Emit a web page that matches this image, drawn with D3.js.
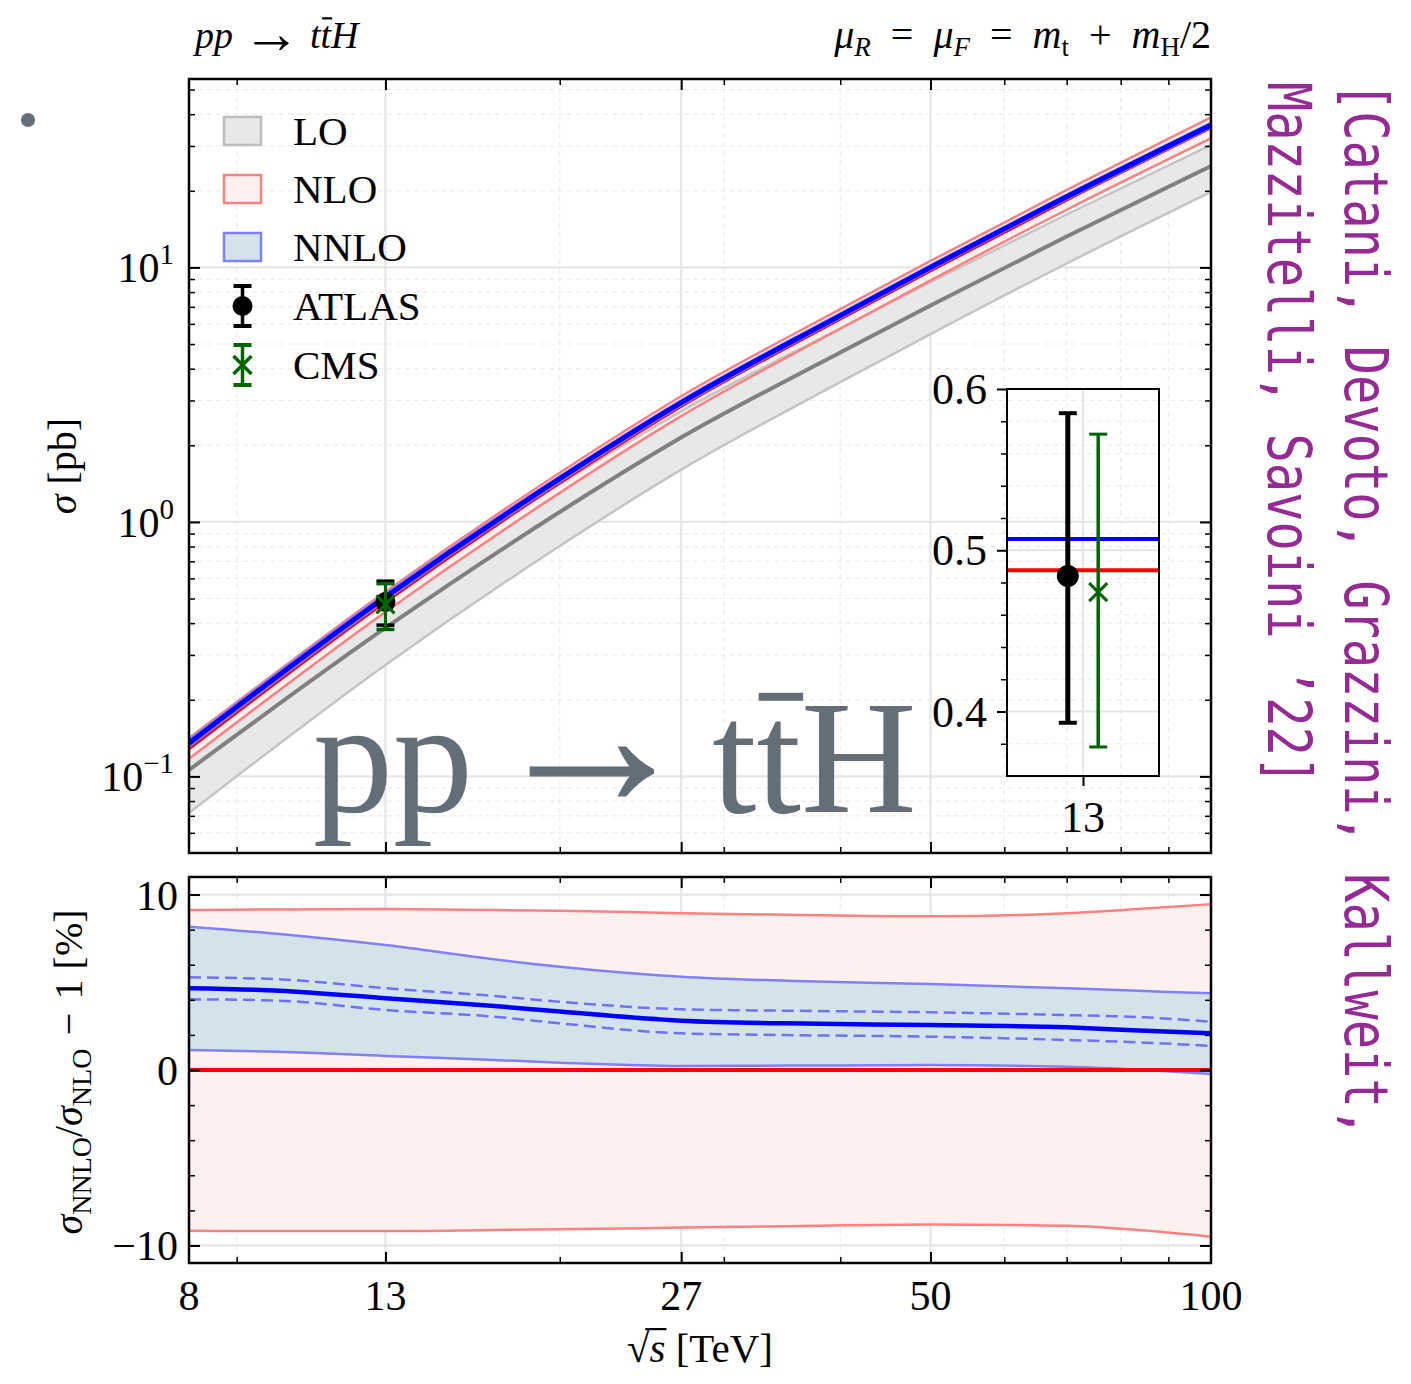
<!DOCTYPE html>
<html><head><meta charset="utf-8">
<script src="https://cdn.jsdelivr.net/npm/d3@7"></script>
<style>
body{margin:0;background:#fff;}
svg{display:block;}
text{font-family:"Liberation Serif","DejaVu Serif",serif;fill:#000;}
</style></head><body>
<svg id="chart" width="1411" height="1384"></svg>
<script>
// ---------------- data ----------------
const energies    = [8, 13, 20, 27, 40, 50, 70, 100];          // sqrt(s) [TeV]
const loCentral   = [0.106, 0.383, 1.094, 2.145, 4.63, 7.09, 13.23, 25.0];
const loUpper     = [0.142, 0.51, 1.41, 2.72, 5.76, 8.76, 16.14, 30.3];
const loLower     = [0.0718, 0.274, 0.804, 1.604, 3.54, 5.47, 10.36, 19.8];
const nloCentral  = [0.129, 0.4876, 1.43, 2.86, 6.3, 9.75, 18.5, 35.5];
const nloUpper    = [0.1408, 0.532, 1.560, 3.116, 6.855, 10.60, 20.15, 38.86];
const nloLower    = [0.1172, 0.4427, 1.300, 2.603, 5.74, 8.89, 16.85, 32.13];
const nnloCentral = [0.135, 0.507, 1.478, 2.94, 6.465, 10.0, 18.95, 36.24];
const nnloUpper   = [0.1395, 0.5223, 1.514, 3.012, 6.615, 10.23, 19.36, 37.05];
const nnloLower   = [0.1305, 0.4915, 1.436, 2.867, 6.316, 9.777, 18.535, 35.42];

const ratioEnergies = [8, 10, 13, 17, 20, 27, 35, 50, 70, 85, 100];
const nloBandUp     = [9.12, 9.15, 9.17, 9.12, 9.08, 8.94, 8.85, 8.76, 8.93, 9.2, 9.45];
const nloBandDown   = [-9.16, -9.18, -9.18, -9.12, -9.08, -8.98, -8.9, -8.8, -8.88, -9.15, -9.5];
const nloRatio      = [0, 0, 0, 0, 0, 0, 0, 0, 0, 0, 0];
const nnloBandUp    = [8.17, 7.75, 7.12, 6.31, 5.89, 5.32, 5.09, 4.9, 4.66, 4.5, 4.37];
const nnloBandDown  = [1.14, 1.04, 0.8, 0.57, 0.42, 0.23, 0.25, 0.28, 0.19, 0.0, -0.23];
const nnloRatio     = [4.66, 4.52, 4.09, 3.65, 3.33, 2.81, 2.66, 2.56, 2.43, 2.24, 2.09];
const nnloErrUp     = [5.28, 5.17, 4.66, 4.22, 3.89, 3.46, 3.38, 3.29, 3.13, 3.0, 2.75];
const nnloErrDown   = [4.03, 3.95, 3.42, 3.04, 2.66, 2.09, 1.99, 1.9, 1.71, 1.56, 1.37];

const measNames   = ["ATLAS", "CMS"];
const measEnergy  = [13, 13];
const measValue   = [0.484, 0.474];
const measErrUp   = [0.101, 0.098];
const measErrDown = [0.091, 0.096];

const xTickLabels  = [8, 13, 27, 50, 100];
const xMinorTicks  = [9, 20, 30, 40, 60, 70, 80, 90];
const yMajorTicks  = [0.1, 1, 10];
const yTickExps    = ["−1", "0", "1"];
const ratioTicks   = [-10, 0, 10];
const ratioLabels  = ["−10", "0", "10"];
const insetTicks   = [0.4, 0.5, 0.6];
const insetLabels  = ["0.4", "0.5", "0.6"];
const legendLabels = ["LO", "NLO", "NNLO", "ATLAS", "CMS"];
const citeLines    = ["[Catani, Devoto, Grazzini, Kallweit,", "Mazzitelli, Savoini ’22]"];

// ---------------- layout ----------------
const M = {l:189, r:1211, t:79, b:853};
const R = {t:877, b:1263};
const I = {l:1007, r:1159, t:389, b:776};
const GRAYTXT = "#646e78";

const svg = d3.select("#chart");
const x  = d3.scaleLog().domain([8, 100]).range([M.l, M.r]);
const y  = d3.scaleLog().domain([0.05, 55]).range([M.b, M.t]);
const yr = d3.scaleLinear().domain([-11, 11]).range([R.b, R.t]);
const xi = d3.scaleLinear().domain([12.5, 13.5]).range([I.l, I.r]);
const yi = d3.scaleLinear().domain([0.36, 0.6]).range([I.b, I.t]);

const yMinor = [];
[0.01, 0.1, 1, 10].forEach(dec => { for (let k = 2; k <= 9; k++) { const v = dec*k; if (v > 0.05 && v < 55) yMinor.push(v); } });
const yrMinor = d3.range(-10, 11, 2).filter(v => v % 10 !== 0);
const yiMinor = d3.range(0.38, 0.6, 0.02).filter(v => Math.abs(v*10 - Math.round(v*10)) > 1e-6);

const defs = svg.append("defs");
defs.append("clipPath").attr("id", "clipMain").append("rect").attr("x", M.l).attr("y", M.t).attr("width", M.r-M.l).attr("height", M.b-M.t);
defs.append("clipPath").attr("id", "clipRatio").append("rect").attr("x", M.l).attr("y", R.t).attr("width", M.r-M.l).attr("height", R.b-R.t);

// ---------------- grid helpers ----------------
function vGrid(g, vals, sx, y1, y2, major) {
  g.selectAll(null).data(vals).enter().append("line")
    .attr("x1", d => sx(d)).attr("x2", d => sx(d)).attr("y1", y1).attr("y2", y2)
    .attr("stroke", major ? "#e6e6e6" : "#ececec").attr("stroke-width", major ? 2.2 : 1.2)
    .attr("stroke-dasharray", major ? null : "5,4");
}
function hGrid(g, vals, sy, x1, x2, major) {
  g.selectAll(null).data(vals).enter().append("line")
    .attr("y1", d => sy(d)).attr("y2", d => sy(d)).attr("x1", x1).attr("x2", x2)
    .attr("stroke", major ? "#e6e6e6" : "#ececec").attr("stroke-width", major ? 2.2 : 1.2)
    .attr("stroke-dasharray", major ? null : "5,4");
}
function ticks(gen, transform, vals, size, width) {
  const g = svg.append("g").attr("transform", transform)
    .call(gen.tickValues(vals).tickSize(size).tickSizeOuter(0).tickFormat(""));
  g.select(".domain").remove();
  g.selectAll(".tick line").attr("stroke", "#000").attr("stroke-width", width);
  return g;
}
const areaGen = (xs, lo, hi, sx, sy) => d3.area()
  .x((d, i) => sx(xs[i])).y0((d, i) => sy(lo[i])).y1((d, i) => sy(hi[i]))
  .curve(d3.curveMonotoneX)(xs);
const lineGen = (xs, vals, sx, sy) => d3.line()
  .x((d, i) => sx(xs[i])).y((d, i) => sy(vals[i]))
  .curve(d3.curveMonotoneX)(xs);
function overbar(node, idx, fs, frac, th, col, padL, padR) {
  const s = node.getStartPositionOfChar(idx), e = node.getEndPositionOfChar(idx);
  const w = e.x - s.x;
  svg.append("rect").attr("x", s.x + padL*w).attr("width", w*(1 - padL + padR))
    .attr("y", s.y - frac*fs - th/2).attr("height", th).attr("fill", col);
}

// ---------------- main panel ----------------
const gm = svg.append("g");
vGrid(gm, xMinorTicks, x, M.t, M.b, false);
hGrid(gm, yMinor, y, M.l, M.r, false);
vGrid(gm, [13, 27, 50], x, M.t, M.b, true);
hGrid(gm, yMajorTicks, y, M.l, M.r, true);

const gc = svg.append("g").attr("clip-path", "url(#clipMain)");
gc.append("path").attr("d", areaGen(energies, loLower, loUpper, x, y)).attr("fill", "#e8e8e8");
gc.append("path").attr("d", areaGen(energies, nloLower, nloUpper, x, y)).attr("fill", "#fff0f0");
gc.append("path").attr("d", areaGen(energies, nnloLower, nnloUpper, x, y)).attr("fill", "#d3e3ea");
[[loUpper, "#c4c4c4", 2.5], [loLower, "#c4c4c4", 2.5], [loCentral, "#808080", 4],
 [nloUpper, "#ff8080", 2.5], [nloLower, "#ff8080", 2.5], [nloCentral, "#ff0000", 4],
 [nnloUpper, "#8080ff", 2], [nnloLower, "#8080ff", 2], [nnloCentral, "#0000ff", 5]]
 .forEach(([vals, col, w]) => gc.append("path").attr("d", lineGen(energies, vals, x, y))
   .attr("fill", "none").attr("stroke", col).attr("stroke-width", w));

// measurements (main)
function errMark(g, cx, v, up, dn, sy, name, opt) {
  const col = name === "ATLAS" ? "#000" : "#006400";
  g.append("line").attr("x1", cx).attr("x2", cx).attr("y1", sy(v+up)).attr("y2", sy(v-dn))
    .attr("stroke", col).attr("stroke-width", opt.lw);
  [v+up, v-dn].forEach(e => g.append("line").attr("x1", cx-opt.cap).attr("x2", cx+opt.cap)
    .attr("y1", sy(e)).attr("y2", sy(e)).attr("stroke", col).attr("stroke-width", opt.capw));
  const cy = sy(v);
  if (name === "ATLAS") g.append("circle").attr("cx", cx).attr("cy", cy).attr("r", opt.r).attr("fill", "#000");
  else {
    const s = opt.xs;
    g.append("path").attr("d", `M${cx-s},${cy-s}L${cx+s},${cy+s}M${cx-s},${cy+s}L${cx+s},${cy-s}`)
      .attr("stroke", col).attr("stroke-width", opt.xw).attr("fill", "none");
  }
}
measNames.forEach((n, i) => errMark(svg.append("g"), x(measEnergy[i]), measValue[i], measErrUp[i], measErrDown[i], y, n,
  {lw: 3, cap: 9, capw: 3.5, r: 10, xs: 9, xw: 3}));

// big label
svg.append("text").attr("x", 313).attr("y", 812).attr("font-size", 160).style("fill", GRAYTXT).text("pp");
svg.append("text").attr("x", 488).attr("y", 806).attr("font-size", 208).style("fill", GRAYTXT)
  .style("stroke", GRAYTXT).style("stroke-width", 1.2).text("→");
const big = svg.append("text").attr("x", 712).attr("y", 812).attr("font-size", 160).style("fill", GRAYTXT).text("ttH");
overbar(big.node(), 1, 160, 0.72, 8, GRAYTXT, 0.05, 0.05);

// main frame + ticks
ticks(d3.axisLeft(y), `translate(${M.l},0)`, yMajorTicks, -11, 2);
ticks(d3.axisLeft(y), `translate(${M.l},0)`, yMinor, -6, 1.5);
ticks(d3.axisRight(y), `translate(${M.r},0)`, yMajorTicks, -11, 2);
ticks(d3.axisRight(y), `translate(${M.r},0)`, yMinor, -6, 1.5);
ticks(d3.axisBottom(x), `translate(0,${M.b})`, [13, 27, 50], -11, 2);
ticks(d3.axisBottom(x), `translate(0,${M.b})`, xMinorTicks, -6, 1.5);
ticks(d3.axisTop(x), `translate(0,${M.t})`, [13, 27, 50], -11, 2);
ticks(d3.axisTop(x), `translate(0,${M.t})`, xMinorTicks, -6, 1.5);
svg.append("rect").attr("x", M.l).attr("y", M.t).attr("width", M.r-M.l).attr("height", M.b-M.t)
  .attr("fill", "none").attr("stroke", "#000").attr("stroke-width", 2.5);

// y tick labels main
yMajorTicks.forEach((v, i) => {
  const t = svg.append("text").attr("x", 174).attr("y", y(v) + 15).attr("text-anchor", "end").attr("font-size", 42);
  t.append("tspan").text("10");
  t.append("tspan").attr("dy", -18).attr("font-size", 29).text(yTickExps[i]);
});

// ---------------- inset ----------------
const gi = svg.append("g");
hGrid(gi, yiMinor, yi, I.l, I.r, false);
hGrid(gi, insetTicks.slice(0, 2), yi, I.l, I.r, true);
vGrid(gi, [13], xi, I.t, I.b, true);
gi.append("line").attr("x1", I.l).attr("x2", I.r).attr("y1", yi(nnloCentral[1])).attr("y2", yi(nnloCentral[1]))
  .attr("stroke", "#0000ff").attr("stroke-width", 4);
gi.append("line").attr("x1", I.l).attr("x2", I.r).attr("y1", yi(nloCentral[1])).attr("y2", yi(nloCentral[1]))
  .attr("stroke", "#ff0000").attr("stroke-width", 4);
const insetOffset = [-0.1, 0.1];
measNames.forEach((n, i) => errMark(gi, xi(measEnergy[i] + insetOffset[i]), measValue[i], measErrUp[i], measErrDown[i], yi, n,
  n === "ATLAS" ? {lw: 5, cap: 9, capw: 4, r: 11, xs: 9, xw: 3} : {lw: 3.5, cap: 9, capw: 3, r: 11, xs: 9, xw: 3}));
ticks(d3.axisLeft(yi), `translate(${I.l},0)`, insetTicks, 10, 2);
ticks(d3.axisLeft(yi), `translate(${I.l},0)`, yiMinor, 6, 1.5);
ticks(d3.axisBottom(xi), `translate(0,${I.b})`, [13], 10, 2);
svg.append("rect").attr("x", I.l).attr("y", I.t).attr("width", I.r-I.l).attr("height", I.b-I.t)
  .attr("fill", "none").attr("stroke", "#000").attr("stroke-width", 2);
insetTicks.forEach((v, i) => svg.append("text").attr("x", 987).attr("y", yi(v) + 15)
  .attr("text-anchor", "end").attr("font-size", 44).text(insetLabels[i]));
svg.append("text").attr("x", xi(13)).attr("y", 832).attr("text-anchor", "middle").attr("font-size", 44).text("13");

// ---------------- legend ----------------
const legY = [131, 189, 247, 306, 365];
const patchStyle = [["#e8e8e8", "#bdbdbd"], ["#fff0f0", "#ff8080"], ["#d3e3ea", "#8080ff"]];
legendLabels.forEach((lab, i) => {
  const cy = legY[i];
  if (i < 3) {
    svg.append("rect").attr("x", 224).attr("y", cy - 14).attr("width", 37).attr("height", 28)
      .attr("fill", patchStyle[i][0]).attr("stroke", patchStyle[i][1]).attr("stroke-width", 2.5);
  } else {
    errMark(svg.append("g"), 242.5, 0, 20, 20, v => cy - v, lab, {lw: 3.5, cap: 9, capw: 4, r: 10, xs: 9, xw: 3.5});
  }
  svg.append("text").attr("x", 293).attr("y", cy + 14).attr("font-size", 41).text(lab);
});

// ---------------- ratio panel ----------------
const gr = svg.append("g");
vGrid(gr, xMinorTicks, x, R.t, R.b, false);
hGrid(gr, yrMinor, yr, M.l, M.r, false);
vGrid(gr, [13, 27, 50], x, R.t, R.b, true);
hGrid(gr, ratioTicks, yr, M.l, M.r, true);
const grc = svg.append("g").attr("clip-path", "url(#clipRatio)");
grc.append("path").attr("d", areaGen(ratioEnergies, nloBandDown, nloBandUp, x, yr)).attr("fill", "#fff0f0");
grc.append("path").attr("d", areaGen(ratioEnergies, nnloBandDown, nnloBandUp, x, yr)).attr("fill", "#d3e3ea");
[[nloBandUp, "#ff8080", 2.5, null], [nloBandDown, "#ff8080", 2.5, null],
 [nnloBandUp, "#8080ff", 2.5, null], [nnloBandDown, "#8080ff", 2.5, null],
 [nloRatio, "#ff0000", 4, null],
 [nnloErrUp, "#7070ff", 2.5, "12,6"], [nnloErrDown, "#7070ff", 2.5, "12,6"],
 [nnloRatio, "#0000ff", 4.5, null]]
 .forEach(([vals, col, w, dash]) => grc.append("path").attr("d", lineGen(ratioEnergies, vals, x, yr))
   .attr("fill", "none").attr("stroke", col).attr("stroke-width", w).attr("stroke-dasharray", dash));

ticks(d3.axisLeft(yr), `translate(${M.l},0)`, ratioTicks, -11, 2);
ticks(d3.axisLeft(yr), `translate(${M.l},0)`, yrMinor, -6, 1.5);
ticks(d3.axisRight(yr), `translate(${M.r},0)`, ratioTicks, -11, 2);
ticks(d3.axisRight(yr), `translate(${M.r},0)`, yrMinor, -6, 1.5);
ticks(d3.axisBottom(x), `translate(0,${R.b})`, [13, 27, 50], -11, 2);
ticks(d3.axisBottom(x), `translate(0,${R.b})`, xMinorTicks, -6, 1.5);
ticks(d3.axisTop(x), `translate(0,${R.t})`, [13, 27, 50], -11, 2);
ticks(d3.axisTop(x), `translate(0,${R.t})`, xMinorTicks, -6, 1.5);
svg.append("rect").attr("x", M.l).attr("y", R.t).attr("width", M.r-M.l).attr("height", R.b-R.t)
  .attr("fill", "none").attr("stroke", "#000").attr("stroke-width", 2.5);

ratioTicks.forEach((v, i) => svg.append("text").attr("x", 178).attr("y", yr(v) + 15)
  .attr("text-anchor", "end").attr("font-size", 42).text(ratioLabels[i]));
xTickLabels.forEach(v => svg.append("text").attr("x", x(v)).attr("y", 1310)
  .attr("text-anchor", "middle").attr("font-size", 42).text(v));

// ---------------- axis titles ----------------
const yl = svg.append("text").attr("transform", "translate(76,466) rotate(-90)").attr("text-anchor", "middle").attr("font-size", 40);
yl.append("tspan").attr("font-style", "italic").text("σ");
yl.append("tspan").text(" [pb]");

const yl2 = svg.append("text").attr("transform", "translate(82,1072) rotate(-90)").attr("text-anchor", "middle").attr("font-size", 40);
yl2.append("tspan").attr("font-style", "italic").text("σ");
yl2.append("tspan").attr("font-size", 28).attr("dy", 9).text("NNLO");
yl2.append("tspan").attr("dy", -9).text("/");
yl2.append("tspan").attr("font-style", "italic").text("σ");
yl2.append("tspan").attr("font-size", 28).attr("dy", 9).text("NLO");
yl2.append("tspan").attr("dy", -9).text("\u2004−\u20041 [%]");

const xl = svg.append("text").attr("x", 700).attr("y", 1362).attr("text-anchor", "middle").attr("font-size", 41);
xl.append("tspan").text("√");
xl.append("tspan").attr("font-style", "italic").text("s");
xl.append("tspan").text(" [TeV]");
{
  const n = xl.node();
  const s = n.getStartPositionOfChar(0), m = n.getEndPositionOfChar(0), e = n.getEndPositionOfChar(1);
  const x0 = (s.x + m.x)/2 + 7;
  svg.append("rect").attr("x", x0).attr("width", e.x - x0 + 1)
    .attr("y", 1362 - 34).attr("height", 2.2).attr("fill", "#000");
}

// ---------------- titles ----------------
const tl = svg.append("text").attr("x", 195).attr("y", 48).attr("font-size", 38).attr("font-style", "italic");
tl.append("tspan").text("pp\u2005");
tl.append("tspan").attr("font-size", 58).attr("font-style", "normal").attr("dy", 5).text("→");
tl.append("tspan").attr("dy", -5).text("\u2005ttH");
overbar(tl.node(), 6, 38, 0.78, 2.2, "#000", 0.15, 0.1);

const tr = svg.append("text").attr("x", 1211).attr("y", 48).attr("text-anchor", "end").attr("font-size", 40);
[["μ", "i", 0], ["R", "i", 1], ["\u2002=\u2002", "r", -1], ["μ", "i", 0], ["F", "i", 1], ["\u2002=\u2002", "r", -1],
 ["m", "i", 0], ["t", "r", 1], ["\u2002+\u2002", "r", -1], ["m", "i", 0], ["H", "r", 1], ["/2", "r", -1]]
 .forEach(([s, st, sub]) => {
   const ts = tr.append("tspan").text(s).attr("font-style", st === "i" ? "italic" : "normal");
   if (sub === 1) ts.attr("font-size", 27).attr("dy", 8);
   if (sub === -1) ts.attr("dy", -8);
 });

// ---------------- citation ----------------
const citeX = [1345, 1268];
const citeLen = [1055, 703];
citeLines.forEach((s, i) => svg.append("text")
  .attr("transform", `translate(${citeX[i]},82) rotate(90)`)
  .style("font-family", "'DejaVu Sans Mono', monospace")
  .attr("font-size", 60).attr("textLength", citeLen[i]).attr("lengthAdjust", "spacingAndGlyphs")
  .style("fill", "#952a95").text(s));

// dot
svg.append("circle").attr("cx", 28).attr("cy", 120).attr("r", 7).attr("fill", GRAYTXT);
</script>
</body></html>
